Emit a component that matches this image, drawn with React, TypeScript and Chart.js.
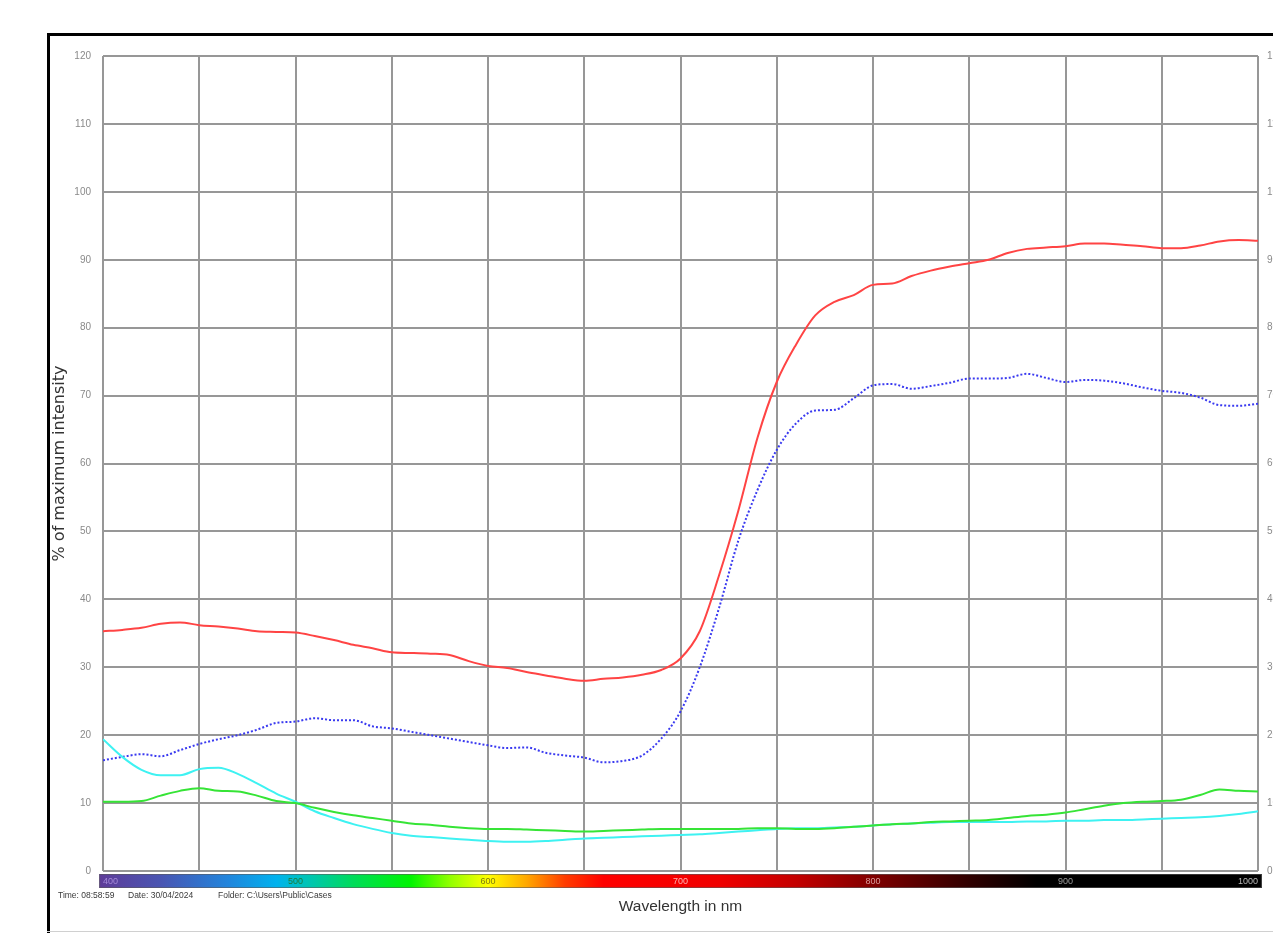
import React, { useEffect, useRef } from 'react';
import { Chart, registerables } from 'chart.js';

Chart.register(...registerables);

const wavelengths = [
  400, 410, 420, 430, 440, 450, 460, 470, 480, 490,
  500, 510, 520, 530, 540, 550, 560, 570, 580, 590,
  600, 610, 620, 630, 640, 650, 660, 670, 680, 690,
  700, 710, 720, 730, 740, 750, 760, 770, 780, 790,
  800, 810, 820, 830, 840, 850, 860, 870, 880, 890,
  900, 910, 920, 930, 940, 950, 960, 970, 980, 990, 1000,
];

const redSeries = [
  35.3, 35.5, 35.8, 36.4, 36.6, 36.2, 36.0, 35.7, 35.3, 35.2,
  35.1, 34.6, 34.0, 33.3, 32.8, 32.2, 32.1, 32.0, 31.8, 30.9,
  30.2, 29.9, 29.3, 28.8, 28.3, 28.0, 28.3, 28.5, 28.9, 29.6,
  31.3, 35.3, 43.5, 53.0, 63.8, 72.0, 77.5, 81.8, 83.8, 84.8,
  86.3, 86.5, 87.6, 88.4, 89.0, 89.5, 90.0, 91.0, 91.6, 91.8,
  92.0, 92.4, 92.4, 92.2, 92.0, 91.7, 91.7, 92.1, 92.7, 92.9, 92.8,
];

const blueSeries = [
  16.3, 16.8, 17.2, 16.9, 17.8, 18.7, 19.4, 20.0, 20.8, 21.8,
  22.0, 22.5, 22.2, 22.2, 21.3, 21.0, 20.5, 20.0, 19.5, 19.0,
  18.5, 18.1, 18.2, 17.4, 17.0, 16.7, 16.0, 16.2, 17.0, 19.5,
  23.5, 30.0, 38.7, 48.6, 56.1, 62.0, 65.9, 67.8, 67.9, 69.6,
  71.5, 71.7, 71.0, 71.4, 71.9, 72.5, 72.5, 72.6, 73.2, 72.6,
  72.0, 72.3, 72.2, 71.8, 71.2, 70.7, 70.4, 69.7, 68.6, 68.5, 68.8,
];

const cyanSeries = [
  19.4, 16.8, 14.9, 14.1, 14.1, 15.0, 15.2, 14.3, 12.9, 11.4,
  10.2, 8.8, 7.8, 6.9, 6.2, 5.6, 5.2, 5.0, 4.8, 4.6,
  4.4, 4.3, 4.3, 4.4, 4.6, 4.8, 4.9, 5.0, 5.1, 5.2,
  5.3, 5.4, 5.6, 5.8, 6.0, 6.2, 6.3, 6.3, 6.4, 6.5,
  6.7, 6.9, 7.0, 7.1, 7.2, 7.2, 7.2, 7.2, 7.3, 7.3,
  7.4, 7.4, 7.5, 7.5, 7.6, 7.7, 7.8, 7.9, 8.1, 8.4, 8.8,
];

const greenSeries = [
  10.2, 10.2, 10.3, 11.1, 11.8, 12.2, 11.8, 11.7, 11.1, 10.3,
  10.0, 9.3, 8.7, 8.2, 7.8, 7.4, 7.0, 6.8, 6.5, 6.3,
  6.2, 6.2, 6.1, 6.0, 5.9, 5.8, 5.9, 6.0, 6.1, 6.2,
  6.2, 6.2, 6.2, 6.2, 6.3, 6.3, 6.2, 6.2, 6.3, 6.5,
  6.7, 6.9, 7.0, 7.2, 7.3, 7.4, 7.5, 7.8, 8.1, 8.3,
  8.6, 9.1, 9.6, 10.0, 10.2, 10.3, 10.5, 11.2, 12.0, 11.8, 11.7,
];

const xTickLabels: Record<number, string> = {
  400: '400', 500: '500', 600: '600', 700: '700', 800: '800', 900: '900', 1000: '1000',
};
const xTickColors: Record<number, string> = {
  400: '#a58ad8', 500: '#1f7a3a', 600: '#7d7a10', 700: '#ffb4b4', 800: '#d99a9a', 900: '#9a9a9a', 1000: '#b8b8b8',
};

const spectrumStops: [number, string][] = [
  [398, '#5e3c98'], [430, '#4a55b2'], [465, '#2185dc'], [490, '#00b2ee'],
  [510, '#00c8a8'], [530, '#00dc5a'], [560, '#00f500'], [580, '#90ff00'],
  [600, '#ffff00'], [620, '#ffa800'], [640, '#ff3c00'], [660, '#ff0000'],
  [720, '#f00000'], [760, '#c40000'], [800, '#800000'], [850, '#300000'],
  [885, '#000000'], [1002, '#000000'],
];

const footerParts: [string, number][] = [
  ['Time: 08:58:59', 58],
  ['Date: 30/04/2024', 128],
  ['Folder: C:\\Users\\Public\\Cases', 218],
];

const FONT = '"Liberation Sans", Arial, sans-serif';
const GRID = '#979797';

const framePlugin = {
  id: 'framePlugin',
  beforeDraw(chart: any) {
    const ctx = chart.ctx;
    const xs = chart.scales.x;
    ctx.save();
    ctx.fillStyle = '#ffffff';
    ctx.fillRect(0, 0, chart.width, chart.height);
    // outer frame
    ctx.fillStyle = '#000000';
    ctx.fillRect(47, 33, 3, chart.height);
    ctx.fillRect(47, 33, chart.width, 3);
    ctx.fillStyle = '#d0d0d0';
    ctx.fillRect(47, 931, chart.width, 1);
    // spectrum bar
    const x0 = xs.getPixelForValue(398);
    const x1 = xs.getPixelForValue(1002);
    const g = ctx.createLinearGradient(x0, 0, x1, 0);
    for (const [nm, c] of spectrumStops) {
      g.addColorStop((nm - 398) / 604, c);
    }
    ctx.fillStyle = g;
    ctx.fillRect(x0, 874, x1 - x0, 14);
    ctx.strokeStyle = 'rgba(90,90,90,0.6)';
    ctx.lineWidth = 1;
    ctx.strokeRect(x0 + 0.5, 874.5, x1 - x0 - 1, 13);
    ctx.restore();
  },
  afterDraw(chart: any) {
    const ctx = chart.ctx;
    ctx.save();
    ctx.fillStyle = '#3a3a3a';
    ctx.font = '8.5px ' + FONT;
    ctx.textBaseline = 'middle';
    ctx.textAlign = 'left';
    for (const [t, x] of footerParts) ctx.fillText(t, x, 896);
    ctx.restore();
  },
};

export default function App() {
  const ref = useRef<HTMLCanvasElement | null>(null);

  useEffect(() => {
    if (!ref.current) return;
    const mk = (arr: number[]) => wavelengths.map((w, i) => ({ x: w, y: arr[i] }));
    const chart = new Chart(ref.current, {
      type: 'line',
      data: {
        datasets: [
          { label: 'Green', data: mk(greenSeries), borderColor: '#36e436', borderWidth: 2, pointRadius: 0, cubicInterpolationMode: 'monotone', yAxisID: 'y' },
          { label: 'Cyan', data: mk(cyanSeries), borderColor: '#3ef2f2', borderWidth: 2, pointRadius: 0, cubicInterpolationMode: 'monotone', yAxisID: 'y' },
          { label: 'Blue', data: mk(blueSeries), borderColor: '#3a3af0', borderWidth: 2, borderDash: [2, 2], pointRadius: 0, cubicInterpolationMode: 'monotone', yAxisID: 'y' },
          { label: 'Red', data: mk(redSeries), borderColor: '#ff4444', borderWidth: 2, pointRadius: 0, cubicInterpolationMode: 'monotone', yAxisID: 'y' },
        ],
      } as any,
      options: {
        animation: false,
        responsive: false,
        devicePixelRatio: 1,
        layout: { padding: { top: 56, left: 0, right: 0, bottom: 0 } },
        plugins: { legend: { display: false }, tooltip: { enabled: false }, title: { display: false } },
        scales: {
          x: {
            type: 'linear',
            min: 400,
            max: 1000,
            afterFit: (s: any) => { s.height = 62; },
            ticks: {
              stepSize: 50,
              autoSkip: false,
              maxRotation: 0,
              align: 'inner',
              padding: 5,
              font: { size: 9, family: FONT },
              color: (c: any) => xTickColors[c.tick.value] || '#999',
              callback: (v: any) => xTickLabels[v] || '',
            },
            grid: { color: GRID, lineWidth: 2, drawTicks: false },
            border: { display: false },
            title: {
              display: true,
              text: 'Wavelength in nm',
              font: { size: 15.5, family: FONT },
              color: '#333333',
              padding: { top: 0, bottom: 17 },
            },
          },
          y: {
            type: 'linear',
            position: 'left',
            min: 0,
            max: 120,
            afterFit: (s: any) => { s.width = 103; },
            ticks: { stepSize: 10, padding: 12, font: { size: 10, family: FONT }, color: '#8a8a8a' },
            grid: { color: GRID, lineWidth: 2, drawTicks: false },
            border: { display: false },
            title: {
              display: true,
              text: '% of maximum intensity',
              font: { size: 16, family: '"DejaVu Sans", sans-serif' },
              color: '#333333',
              padding: { top: 50, bottom: 0 },
            },
          },
          y2: {
            type: 'linear',
            position: 'right',
            min: 0,
            max: 120,
            afterFit: (s: any) => { s.width = 32; },
            ticks: { stepSize: 10, padding: 9, font: { size: 10, family: FONT }, color: '#8a8a8a' },
            grid: { display: false, drawTicks: false },
            border: { display: false },
          },
        },
      } as any,
      plugins: [framePlugin],
    });
    return () => chart.destroy();
  }, []);

  return (
    <div style={{ position: 'absolute', left: 0, top: 0, width: 1273, height: 933, overflow: 'hidden', background: '#ffffff' }}>
      <canvas ref={ref} width={1290} height={933} style={{ display: 'block', width: 1290, height: 933 }} />
    </div>
  );
}
